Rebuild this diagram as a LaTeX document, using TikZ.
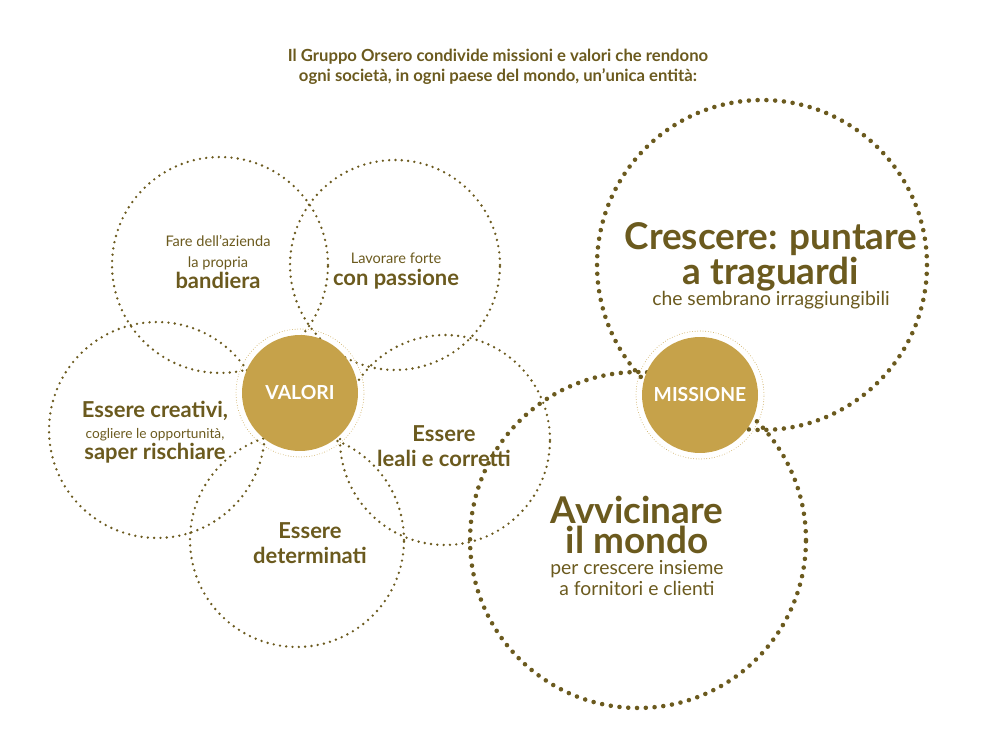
\documentclass[tikz,border=0pt]{standalone}
\usepackage{fontspec}
\setmainfont{Lato}
\definecolor{olive}{HTML}{6B5A1E}
\definecolor{gold}{HTML}{C6A24A}
\newcommand\smalltxt{\fontsize{8.3}{11}\selectfont}
\newcommand\boldtxt{\fontsize{12.5}{14}\selectfont\bfseries}
\newcommand\hugetxt{\fontsize{21}{21}\selectfont\bfseries}
\newcommand\subtxt{\fontsize{11}{15}\selectfont}
\begin{document}
\begin{tikzpicture}[x=0.02cm,y=-0.02cm,
			ring/.style={circle,draw=olive,line width=1.5pt,dash pattern=on 0pt off 3.6pt,line cap=round,inner sep=0pt},
			bigring/.style={circle,draw=olive,line width=2.6pt,dash pattern=on 0pt off 5pt,line cap=round,inner sep=0pt},
			core/.style={circle,fill=gold,inner sep=0pt,minimum size=2.32cm,text=white,font=\fontsize{11}{12}\selectfont\bfseries},
			halo/.style={circle,draw=gold,line width=0.5pt,dash pattern=on 0pt off 1.5pt,line cap=round,inner sep=0pt,minimum size=2.56cm},
			lab/.style={align=center,text=olive,inner sep=0pt}]
			\useasboundingbox (0,0) rectangle (1000,749);
			\node [lab,font=\fontsize{9.5}{11.5}\selectfont\bfseries] (title) at (498,67) {Il Gruppo Orsero condivide missioni e valori che rendono\\ogni società, in ogni paese del mondo, un’unica entità:};
			% valori
			\node [ring,minimum size=4.32cm] (bandiera) at (220,265) {};
			\node [ring,minimum size=4.2cm] (passione) at (395,265) {};
			\node [ring,minimum size=4.32cm] (creativi) at (157,430) {};
			\node [ring,minimum size=4.28cm] (determinati) at (297,540) {};
			\node [ring,minimum size=4.2cm] (leali) at (445,440) {};
			\node [halo] (valhalo) at (300,393) {};
			\node [core] (valori) at (300,393) {VALORI};
			\node [lab] (bandieralab) at (218,262) {\smalltxt Fare dell’azienda\\\smalltxt la propria\\\boldtxt bandiera};
			\node [lab] (passionelab) at (396,271) {\smalltxt Lavorare forte\\\boldtxt con passione};
			\node [lab] (creativilab) at (155,432) {\boldtxt Essere creativi,\\\fontsize{7.8}{10}\selectfont cogliere le opportunità,\\\boldtxt saper rischiare};
			\node [lab,font=\boldtxt] (determinatilab) at (310,543) {Essere\\determinati};
			\node [lab,font=\boldtxt] (lealilab) at (444,446) {Essere\\leali e corretti};
			% missione
			\node [bigring,minimum size=6.6cm] (crescere) at (762,265) {};
			\node [bigring,minimum size=6.72cm] (avvicinare) at (638,540) {};
			\node [halo] (mishalo) at (700,395) {};
			\node [core] (missione) at (700,395) {MISSIONE};
			\node [lab] (crescerelab) at (771,266) {\hugetxt Crescere: puntare\\\hugetxt a traguardi\\\subtxt che sembrano irraggiungibili};
			\node [lab] (avvicinarelab) at (637,546) {\hugetxt Avvicinare\\\hugetxt il mondo\\\subtxt per crescere insieme\\\subtxt a fornitori e clienti};
\end{tikzpicture}
\end{document}
